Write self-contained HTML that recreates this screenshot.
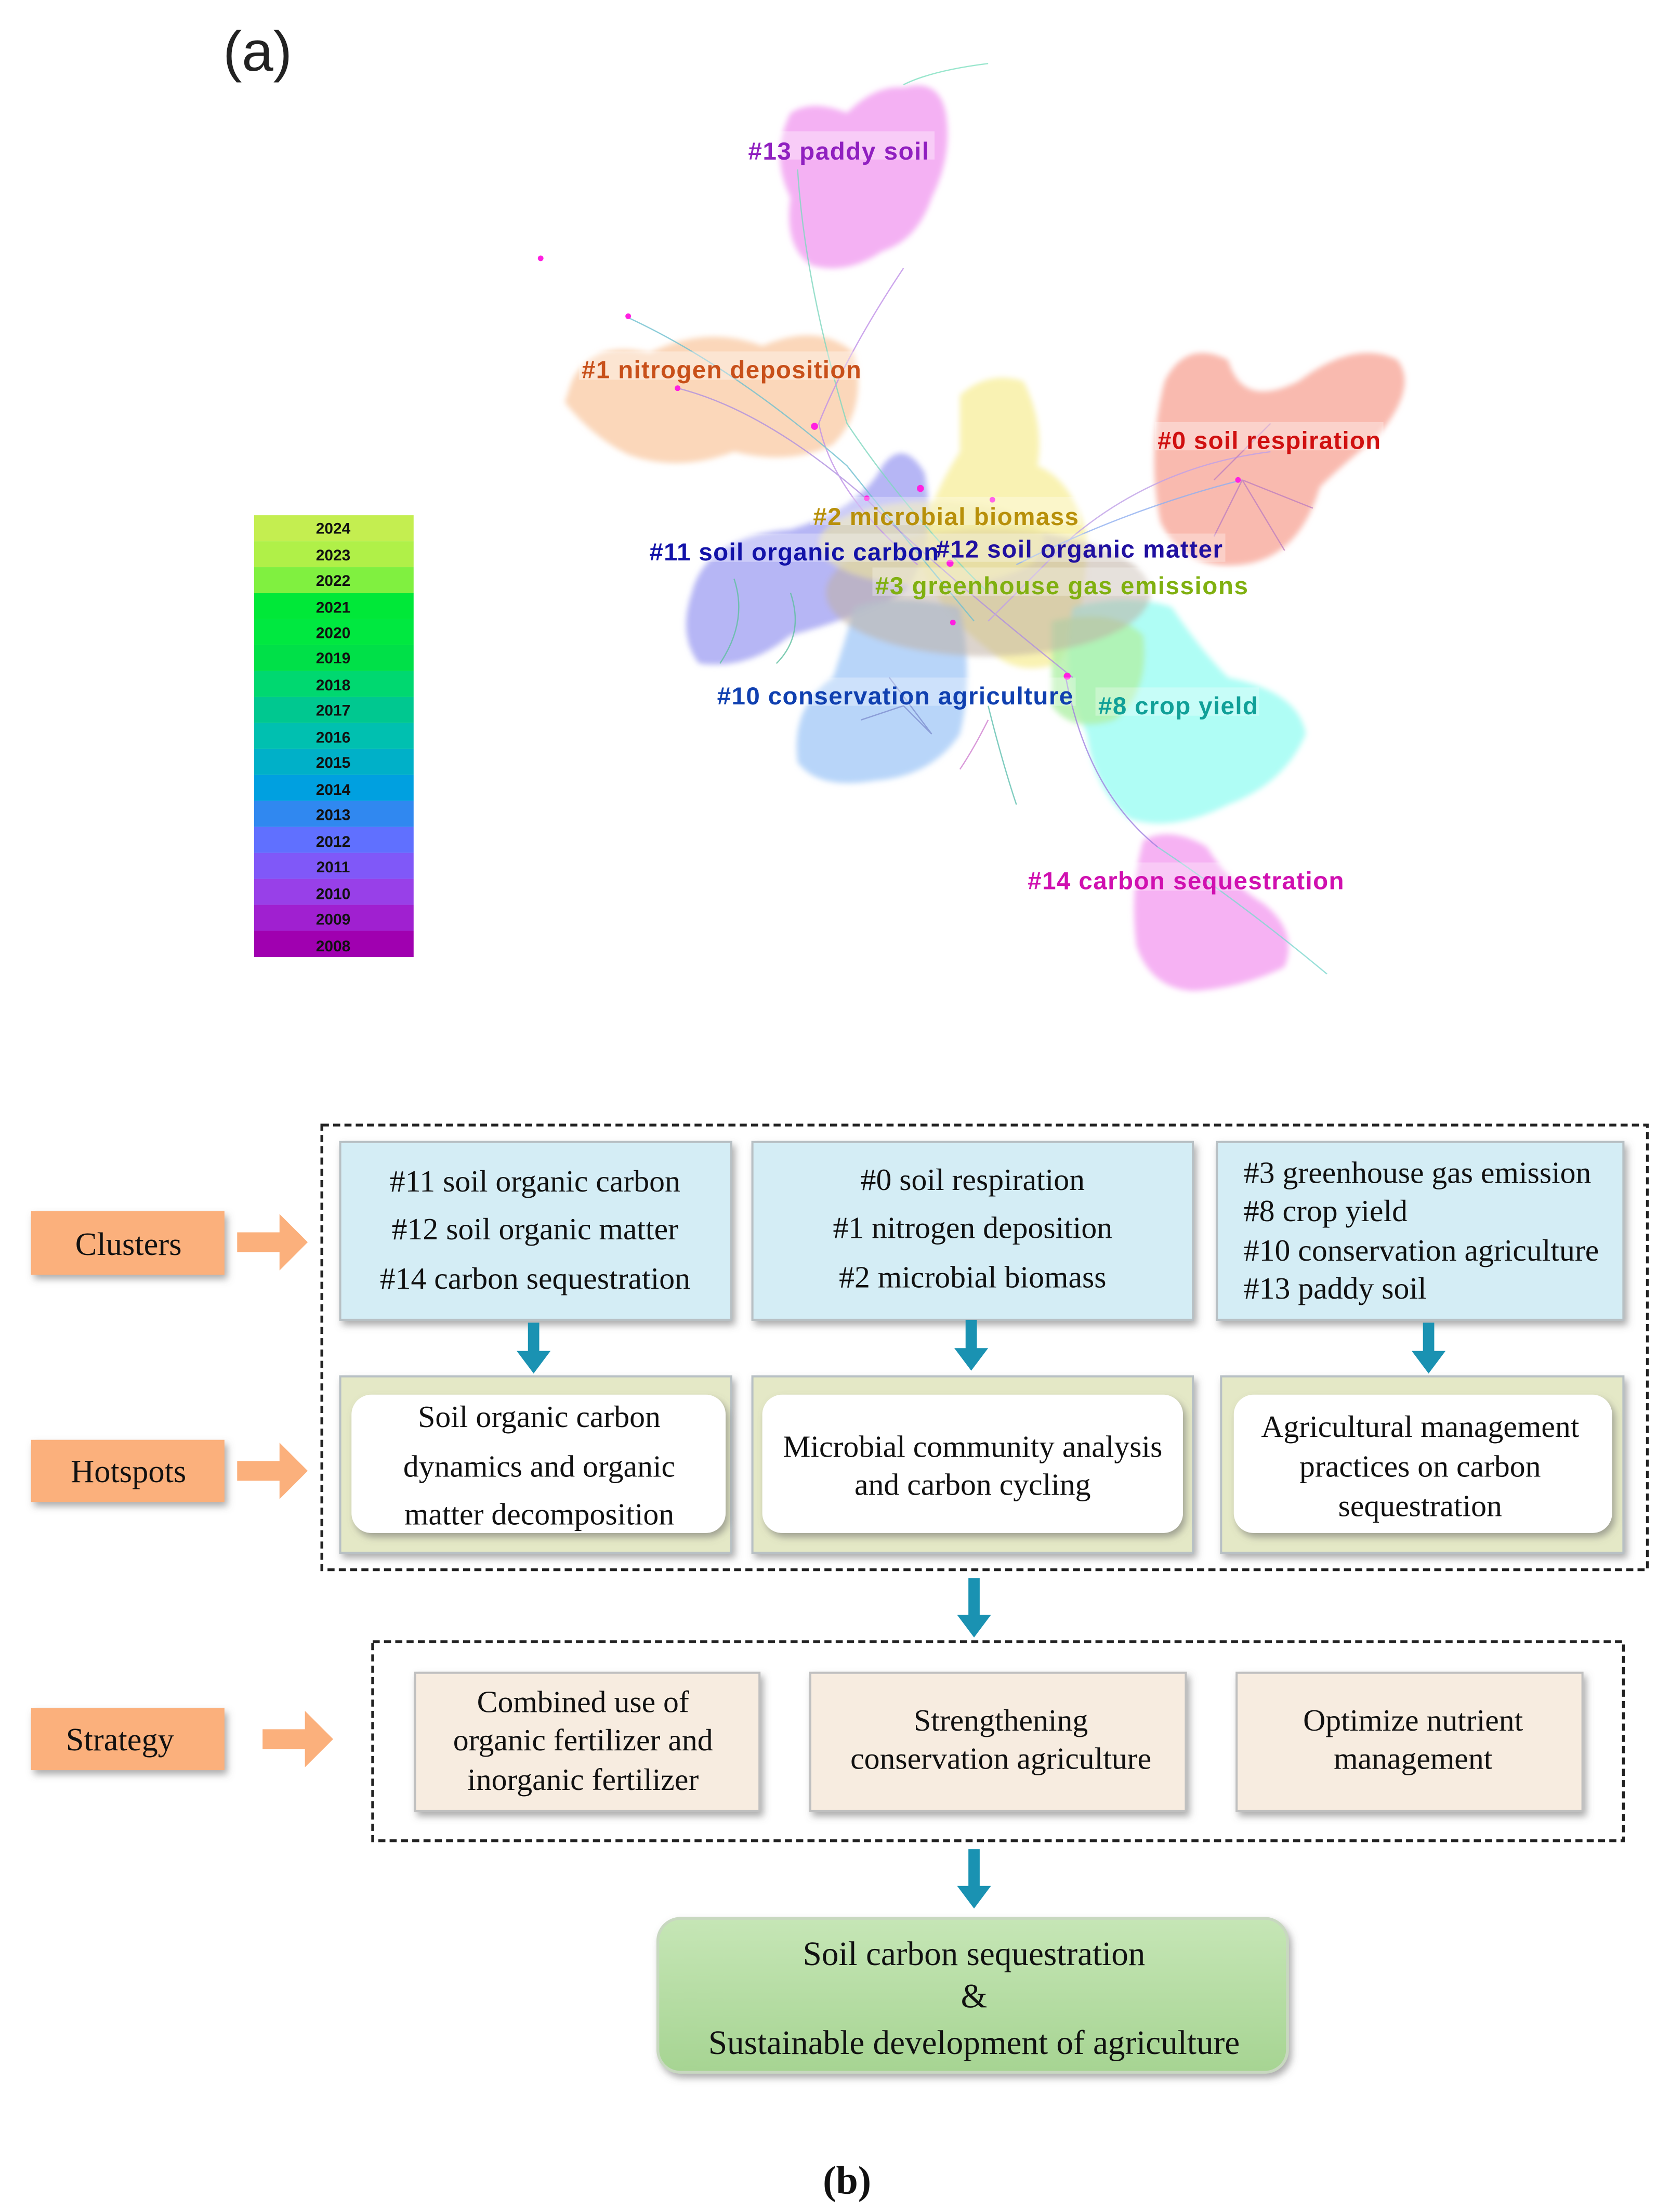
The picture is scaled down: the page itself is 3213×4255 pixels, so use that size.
<!DOCTYPE html>
<html><head><meta charset="utf-8"><style>
html,body{margin:0;padding:0;background:#fff;}
svg{display:block;}
.lab{font-family:"Liberation Sans",sans-serif;font-weight:bold;font-size:17.5px;}
.yr{font-family:"Liberation Sans",sans-serif;font-weight:bold;font-size:11px;fill:#111;}
.t{font-family:"Liberation Serif",serif;font-size:22px;fill:#111;}
</style></head><body>
<svg width="3213" height="4255" viewBox="0 0 1183 1567" preserveAspectRatio="none" xmlns="http://www.w3.org/2000/svg">
<defs>
<filter id="sh" x="-10%" y="-10%" width="130%" height="140%"><feDropShadow dx="2" dy="3" stdDeviation="2.5" flood-color="#666" flood-opacity="0.55"/></filter>
<filter id="bl"><feGaussianBlur stdDeviation="2"/></filter>
<linearGradient id="gg" x1="0" y1="0" x2="0" y2="1"><stop offset="0" stop-color="#c6e6b6"/><stop offset="1" stop-color="#a6d492"/></linearGradient>
</defs>
<rect width="1183" height="1567" fill="#fff"/>
<text x="158" y="50" font-family="Liberation Sans,sans-serif" font-size="40" fill="#222">(a)</text>

<g>
<rect x="180" y="365" width="113" height="18.4" fill="#c4ee50"/>
<rect x="180" y="383.4" width="113" height="18.4" fill="#b0f048"/>
<rect x="180" y="401.8" width="113" height="18.4" fill="#80f040"/>
<rect x="180" y="420.2" width="113" height="18.4" fill="#00e838"/>
<rect x="180" y="438.6" width="113" height="18.4" fill="#00e840"/>
<rect x="180" y="457" width="113" height="18.4" fill="#00e048"/>
<rect x="180" y="475.4" width="113" height="18.4" fill="#00d870"/>
<rect x="180" y="493.8" width="113" height="18.4" fill="#00c890"/>
<rect x="180" y="512.2" width="113" height="18.4" fill="#00c0b0"/>
<rect x="180" y="530.6" width="113" height="18.4" fill="#00b0c8"/>
<rect x="180" y="549" width="113" height="18.4" fill="#00a0e0"/>
<rect x="180" y="567.4" width="113" height="18.4" fill="#3088f0"/>
<rect x="180" y="585.8" width="113" height="18.4" fill="#6070ff"/>
<rect x="180" y="604.2" width="113" height="18.4" fill="#8058f8"/>
<rect x="180" y="622.6" width="113" height="18.4" fill="#9840e8"/>
<rect x="180" y="641" width="113" height="18.4" fill="#a020d0"/>
<rect x="180" y="659.4" width="113" height="18.6" fill="#a000b0"/>
<g text-anchor="middle">
<text class="yr" x="236" y="378">2024</text><text class="yr" x="236" y="397">2023</text><text class="yr" x="236" y="415">2022</text><text class="yr" x="236" y="434">2021</text><text class="yr" x="236" y="452">2020</text><text class="yr" x="236" y="470">2019</text><text class="yr" x="236" y="489">2018</text><text class="yr" x="236" y="507">2017</text><text class="yr" x="236" y="526">2016</text><text class="yr" x="236" y="544">2015</text><text class="yr" x="236" y="563">2014</text><text class="yr" x="236" y="581">2013</text><text class="yr" x="236" y="600">2012</text><text class="yr" x="236" y="618">2011</text><text class="yr" x="236" y="637">2010</text><text class="yr" x="236" y="655">2009</text><text class="yr" x="236" y="674">2008</text>
</g>
</g>

<g filter="url(#bl)">
<path d="M560 80 Q575 70 600 80 Q620 60 640 62 Q665 55 670 80 Q675 110 660 140 Q650 170 625 178 Q600 195 575 188 Q555 175 560 140 Q545 110 560 80Z" fill="#f3a8f2" opacity="0.9"/>
<path d="M405 270 Q420 240 460 250 Q500 230 540 245 Q580 228 605 250 Q615 290 590 315 Q560 330 520 320 Q480 335 445 322 Q420 310 400 285Z" fill="#fbd3b2" opacity="0.9"/>
<path d="M825 270 Q840 240 870 255 Q880 290 920 270 Q960 240 990 255 Q1005 275 975 310 Q950 330 935 345 Q920 395 880 400 Q840 405 822 370 Q812 320 825 270Z" fill="#f8b2a6" opacity="0.9"/>
<path d="M680 280 Q700 262 725 270 Q740 300 735 330 Q760 340 770 380 Q770 440 750 470 Q720 480 700 460 Q660 430 650 390 Q660 350 680 320Z" fill="#f8f0a6" opacity="0.85"/>
<path d="M490 420 Q500 380 560 375 Q610 360 625 330 Q640 310 655 335 Q665 390 640 420 Q600 440 560 450 Q530 475 495 470 Q480 450 490 420Z" fill="#aeaef4" opacity="0.9"/>
<path d="M605 430 Q630 420 680 430 Q690 480 680 520 Q660 550 620 553 Q580 560 565 540 Q560 500 590 480 Q600 450 605 430Z" fill="#b0d0f8" opacity="0.9"/>
<path d="M760 430 Q800 420 830 430 Q850 460 870 480 Q920 490 925 520 Q910 555 870 570 Q830 590 800 580 Q775 560 770 520 Q750 480 760 430Z" fill="#a6fdf4" opacity="0.9"/>
<path d="M810 595 Q830 585 855 600 Q870 625 895 640 Q920 660 910 685 Q880 700 845 702 Q815 700 805 670 Q800 630 810 595Z" fill="#f5aaf2" opacity="0.9"/>
<path d="M745 440 Q790 430 810 450 Q815 490 790 510 Q760 520 745 500Z" fill="#b0f0a8" opacity="0.8"/>
<ellipse cx="700" cy="420" rx="115" ry="45" fill="#c0b0a4" opacity="0.55"/>
<ellipse cx="660" cy="385" rx="80" ry="30" fill="#f0e8a0" opacity="0.6"/>
</g>

<g fill="none" stroke-width="0.9" opacity="0.8">
<path d="M565 120 Q570 200 600 300 Q640 360 700 420" stroke="#80d8c0"/>
<path d="M640 190 Q600 250 580 300 Q590 350 650 400" stroke="#c090e8"/>
<path d="M445 225 Q520 260 600 330 Q640 380 690 440" stroke="#70c0d0"/>
<path d="M480 275 Q540 290 610 350 Q660 400 760 480" stroke="#b090e0"/>
<path d="M900 320 Q820 330 760 380 Q720 420 700 440" stroke="#c0a0e8"/>
<path d="M880 340 Q800 360 720 400" stroke="#90b0f0"/>
<path d="M755 480 Q770 560 820 600" stroke="#a080e0"/>
<path d="M700 500 Q710 540 720 570" stroke="#60c0b0"/>
<path d="M820 600 Q880 640 940 690" stroke="#80d8d0"/>
<path d="M640 60 Q660 50 700 45" stroke="#80e0c0"/>
<path d="M860 340 L900 300 M880 340 L930 360 M880 340 L860 380 M880 340 L910 390" stroke="#c080c0"/>
<path d="M630 480 L660 520 L640 500 L610 510" stroke="#8090d0"/>
<path d="M520 410 Q530 440 510 470 M560 420 Q570 450 550 470" stroke="#60c0a0"/>
<path d="M700 510 Q690 530 680 545" stroke="#d080d0"/>
</g>
<g fill="#ff20e0">
<circle cx="383" cy="183" r="2"/><circle cx="445" cy="224" r="2"/><circle cx="480" cy="275" r="2"/><circle cx="577" cy="302" r="2.5"/>
<circle cx="614" cy="353" r="2"/><circle cx="652" cy="346" r="2.5"/><circle cx="703" cy="354" r="2"/><circle cx="673" cy="399" r="2.5"/>
<circle cx="675" cy="441" r="2"/><circle cx="756" cy="479" r="2.5"/><circle cx="877" cy="340" r="2"/>
</g>

<g>
<rect x="528" y="93" width="134" height="20" fill="#fff" opacity="0.35"/>
<rect x="410" y="249" width="202" height="20" fill="#fff" opacity="0.35"/>
<rect x="818" y="299" width="162" height="20" fill="#fff" opacity="0.35"/>
<rect x="574" y="352" width="192" height="20" fill="#fff" opacity="0.3"/>
<rect x="458" y="378" width="410" height="20" fill="#fff" opacity="0.3"/>
<rect x="618" y="402" width="268" height="20" fill="#fff" opacity="0.3"/>
<rect x="506" y="480" width="256" height="20" fill="#fff" opacity="0.3"/>
<rect x="776" y="487" width="116" height="20" fill="#fff" opacity="0.3"/>
<rect x="726" y="611" width="228" height="20" fill="#fff" opacity="0.3"/>
</g>
<text class="lab" x="530" y="113" fill="#9020c0" textLength="128">#13 paddy soil</text>
<text class="lab" x="412" y="268" fill="#c8501a" textLength="198">#1 nitrogen deposition</text>
<text class="lab" x="820" y="318" fill="#d01010" textLength="158">#0 soil respiration</text>
<text class="lab" x="576" y="372" fill="#b8900a" textLength="188">#2 microbial biomass</text>
<text class="lab" x="460" y="397" fill="#1212a8" textLength="205">#11 soil organic carbon</text>
<text class="lab" x="663" y="395" fill="#2010a0" textLength="203">#12 soil organic matter</text>
<text class="lab" x="620" y="421" fill="#80b010" textLength="264">#3 greenhouse gas emissions</text>
<text class="lab" x="508" y="499" fill="#1040b0" textLength="252">#10 conservation agriculture</text>
<text class="lab" x="778" y="506" fill="#10a098" textLength="113">#8 crop yield</text>
<text class="lab" x="728" y="630" fill="#d010b0" textLength="224">#14 carbon sequestration</text>

<rect x="228" y="797" width="939" height="315" fill="none" stroke="#222" stroke-width="2" stroke-dasharray="5,3"/>
<g filter="url(#sh)" stroke="#b8c0c4" stroke-width="1.5">
<rect x="241" y="809" width="277" height="126" fill="#d4edf5"/>
<rect x="533" y="809" width="312" height="126" fill="#d4edf5"/>
<rect x="862" y="809" width="288" height="126" fill="#d4edf5"/>
<rect x="241" y="975" width="277" height="125" fill="#e4e8c6"/>
<rect x="533" y="975" width="312" height="125" fill="#e4e8c6"/>
<rect x="865" y="975" width="285" height="125" fill="#e4e8c6"/>
</g>
<g filter="url(#sh)">
<rect x="249" y="988" width="265" height="98" rx="14" fill="#fff"/>
<rect x="540" y="988" width="298" height="98" rx="14" fill="#fff"/>
<rect x="874" y="988" width="268" height="98" rx="14" fill="#fff"/>
</g>
<g text-anchor="middle">
<text class="t" x="379" y="844">#11 soil organic carbon</text>
<text class="t" x="379" y="878">#12 soil organic matter</text>
<text class="t" x="379" y="913">#14 carbon sequestration</text>
<text class="t" x="689" y="843">#0 soil respiration</text>
<text class="t" x="689" y="877">#1 nitrogen deposition</text>
<text class="t" x="689" y="912">#2 microbial biomass</text>
<text class="t" x="382" y="1011">Soil organic carbon</text>
<text class="t" x="382" y="1046">dynamics and organic</text>
<text class="t" x="382" y="1080">matter decomposition</text>
<text class="t" x="689" y="1032">Microbial community analysis</text>
<text class="t" x="689" y="1059">and carbon cycling</text>
<text class="t" x="1006" y="1018">Agricultural management</text>
<text class="t" x="1006" y="1046">practices on carbon</text>
<text class="t" x="1006" y="1074">sequestration</text>
</g>
<g>
<text class="t" x="881" y="838">#3 greenhouse gas emission</text>
<text class="t" x="881" y="865">#8 crop yield</text>
<text class="t" x="881" y="893">#10 conservation agriculture</text>
<text class="t" x="881" y="920">#13 paddy soil</text>
</g>

<g fill="#1a92b2">
<path d="M374 937 h8 v20 h8 l-12 16 l-12 -16 h8z"/>
<path d="M684 935 h8 v20 h8 l-12 16 l-12 -16 h8z"/>
<path d="M1008 937 h8 v20 h8 l-12 16 l-12 -16 h8z"/>
<path d="M686 1118 h8 v26 h8 l-12 16 l-12 -16 h8z"/>
<path d="M686 1310 h8 v26 h8 l-12 16 l-12 -16 h8z"/>
</g>

<g filter="url(#sh)">
<rect x="22" y="858" width="137" height="45" fill="#fbb07c"/>
<rect x="22" y="1020" width="137" height="44" fill="#fbb07c"/>
<rect x="22" y="1210" width="137" height="44" fill="#fbb07c"/>
</g>
<g fill="#fbb07c">
<path d="M168 873 h30 v-13 l20 20 l-20 20 v-13 h-30z"/>
<path d="M168 1035 h30 v-13 l20 20 l-20 20 v-13 h-30z"/>
<path d="M186 1225 h30 v-13 l20 20 l-20 20 v-13 h-30z"/>
</g>
<g text-anchor="middle">
<text class="t" x="91" y="889" style="font-size:23px">Clusters</text>
<text class="t" x="91" y="1050" style="font-size:23px">Hotspots</text>
<text class="t" x="85" y="1240" style="font-size:23px">Strategy</text>
</g>

<rect x="264" y="1163" width="886" height="141" fill="none" stroke="#222" stroke-width="2" stroke-dasharray="5,3"/>
<g filter="url(#sh)" stroke="#c0c0c0" stroke-width="1.5" fill="#f7ece0">
<rect x="294" y="1185" width="244" height="98"/>
<rect x="574" y="1185" width="266" height="98"/>
<rect x="876" y="1185" width="245" height="98"/>
</g>
<g text-anchor="middle">
<text class="t" x="413" y="1213">Combined use of</text>
<text class="t" x="413" y="1240">organic fertilizer  and</text>
<text class="t" x="413" y="1268">inorganic  fertilizer</text>
<text class="t" x="709" y="1226">Strengthening</text>
<text class="t" x="709" y="1253">conservation agriculture</text>
<text class="t" x="1001" y="1226">Optimize nutrient</text>
<text class="t" x="1001" y="1253">management</text>
</g>

<rect x="466" y="1359" width="446" height="109" rx="16" fill="url(#gg)" stroke="#c8d8c0" stroke-width="2" filter="url(#sh)"/>
<g text-anchor="middle">
<text class="t" x="690" y="1392" style="font-size:24px">Soil carbon sequestration</text>
<text class="t" x="690" y="1422" style="font-size:24px">&amp;</text>
<text class="t" x="690" y="1455" style="font-size:24px">Sustainable  development  of agriculture</text>
</g>
<text x="600" y="1554" text-anchor="middle" font-family="Liberation Serif,serif" font-weight="bold" font-size="28" fill="#111">(b)</text>
</svg>
</body></html>
